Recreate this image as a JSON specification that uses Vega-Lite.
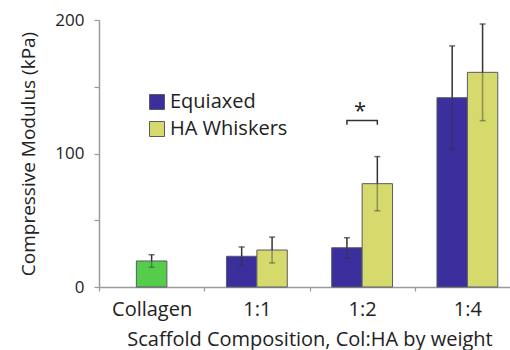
{
  "$schema": "https://vega.github.io/schema/vega-lite/v6.json",
  "autosize": {"type": "none"},
  "padding": {"left": 99, "top": 20, "right": 0, "bottom": 63},
  "width": 411,
  "height": 267,
  "background": "white",
  "config": {
    "view": {"stroke": null},
    "font": "Open Sans",
    "axis": {"grid": false, "domainColor": "#9a9a9a", "domainWidth": 1.5, "tickColor": "#9a9a9a", "tickWidth": 1.2, "labelColor": "#222", "titleColor": "#222", "titleFontWeight": "normal"}
  },
  "datasets": {
    "bars": [
      {"cat": "Collagen", "series": "Collagen", "v": 19.5, "lo": 14.8, "hi": 24.2},
      {"cat": "1:1", "series": "Equiaxed", "v": 23, "lo": 16, "hi": 30},
      {"cat": "1:1", "series": "HA Whiskers", "v": 27.7, "lo": 18, "hi": 37.4},
      {"cat": "1:2", "series": "Equiaxed", "v": 29.4, "lo": 21.9, "hi": 36.9},
      {"cat": "1:2", "series": "HA Whiskers", "v": 77.4, "lo": 57.1, "hi": 97.7},
      {"cat": "1:4", "series": "Equiaxed", "v": 141.8, "lo": 103, "hi": 180.6},
      {"cat": "1:4", "series": "HA Whiskers", "v": 160.8, "lo": 124.6, "hi": 197}
    ],
    "bracket": [
      {"cat": "1:2", "series": "Equiaxed", "y": 121.5, "k": 1},
      {"cat": "1:2", "series": "Equiaxed", "y": 124.7, "k": 2},
      {"cat": "1:2", "series": "HA Whiskers", "y": 124.7, "k": 3},
      {"cat": "1:2", "series": "HA Whiskers", "y": 121.5, "k": 4}
    ],
    "star": [{"cat": "1:2", "y": 131.5, "t": "*"}]
  },
  "data": {"name": "bars"},
  "layer": [
    {
      "transform": [{"filter": "datum.series === 'Collagen'"}],
      "encoding": {
        "x": {
          "field": "cat", "type": "nominal", "sort": ["Collagen", "1:1", "1:2", "1:4"],
          "scale": {"range": [0, 421], "paddingInner": 0, "paddingOuter": 0},
          "axis": {"title": "Scaffold Composition, Col:HA by weight", "labelAngle": 0, "tickBand": "extent", "tickSize": 4, "labelPadding": 8, "labelFontSize": 20, "titleFontSize": 20, "titlePadding": 10}
        }
      },
      "layer": [
        {
          "mark": {"type": "bar", "width": {"band": 0.29}, "color": "#55cc4a", "stroke": "#5a5a6a", "strokeWidth": 1},
          "encoding": {
            "y": {"field": "v", "type": "quantitative",
              "scale": {"domain": [0, 200]},
              "axis": {"title": "Compressive Modulus (kPa)", "values": [0, 50, 100, 150, 200], "labelExpr": "datum.value % 100 === 0 ? datum.label : ''", "tickSize": 5, "labelPadding": 10, "labelFontSize": 17, "titleFontSize": 19, "titlePadding": 16}
            }
          }
        },
        {"mark": {"type": "rule", "color": "#333", "opacity": 0.45, "strokeWidth": 1.5}, "encoding": {"y": {"field": "lo", "type": "quantitative"}, "y2": {"field": "v"}}},
        {"mark": {"type": "rule", "color": "#333", "strokeWidth": 1.5}, "encoding": {"y": {"field": "v", "type": "quantitative"}, "y2": {"field": "hi"}}},
        {"mark": {"type": "tick", "color": "#333", "size": 6, "thickness": 1.5}, "encoding": {"y": {"field": "hi", "type": "quantitative"}}},
        {"mark": {"type": "tick", "color": "#333", "opacity": 0.45, "size": 6, "thickness": 1.5}, "encoding": {"y": {"field": "lo", "type": "quantitative"}}}
      ]
    },
    {
      "transform": [{"filter": "datum.series !== 'Collagen'"}],
      "encoding": {
        "x": {"field": "cat", "type": "nominal", "sort": ["Collagen", "1:1", "1:2", "1:4"]},
        "xOffset": {"field": "series", "type": "nominal", "sort": ["Equiaxed", "HA Whiskers"], "scale": {"paddingInner": 0, "paddingOuter": 0.73}}
      },
      "layer": [
        {
          "mark": {"type": "bar", "stroke": "#5a5a6a", "strokeWidth": 1},
          "encoding": {
            "y": {"field": "v", "type": "quantitative"},
            "color": {"field": "series", "type": "nominal",
              "scale": {"domain": ["Equiaxed", "HA Whiskers"], "range": ["#3a2f9c", "#d6d96b"]},
              "legend": {"title": null, "orient": "none", "legendX": 48, "legendY": 72, "symbolType": "square", "symbolSize": 225, "symbolStrokeColor": "#5a5a6a", "symbolStrokeWidth": 1, "symbolOpacity": 1, "labelFontSize": 20, "labelColor": "#222", "labelOffset": 3, "rowPadding": 7, "padding": 0}
            }
          }
        },
        {"mark": {"type": "rule", "color": "#333", "opacity": 0.45, "strokeWidth": 1.5}, "encoding": {"y": {"field": "lo", "type": "quantitative"}, "y2": {"field": "v"}}},
        {"mark": {"type": "rule", "color": "#333", "strokeWidth": 1.5}, "encoding": {"y": {"field": "v", "type": "quantitative"}, "y2": {"field": "hi"}}},
        {"mark": {"type": "tick", "color": "#333", "size": 6, "thickness": 1.5}, "encoding": {"y": {"field": "hi", "type": "quantitative"}}},
        {"mark": {"type": "tick", "color": "#333", "opacity": 0.45, "size": 6, "thickness": 1.5}, "encoding": {"y": {"field": "lo", "type": "quantitative"}}}
      ]
    },
    {
      "data": {"name": "bracket"},
      "mark": {"type": "line", "color": "#333", "strokeWidth": 1.5},
      "encoding": {
        "x": {"field": "cat", "type": "nominal", "sort": ["Collagen", "1:1", "1:2", "1:4"]},
        "xOffset": {"field": "series", "type": "nominal", "sort": ["Equiaxed", "HA Whiskers"]},
        "y": {"field": "y", "type": "quantitative"},
        "order": {"field": "k", "type": "quantitative"}
      }
    },
    {
      "data": {"name": "star"},
      "mark": {"type": "text", "fontSize": 22, "color": "#222", "baseline": "middle", "dx": -2},
      "encoding": {
        "x": {"field": "cat", "type": "nominal", "sort": ["Collagen", "1:1", "1:2", "1:4"]},
        "y": {"field": "y", "type": "quantitative"},
        "text": {"field": "t"}
      }
    }
  ]
}
